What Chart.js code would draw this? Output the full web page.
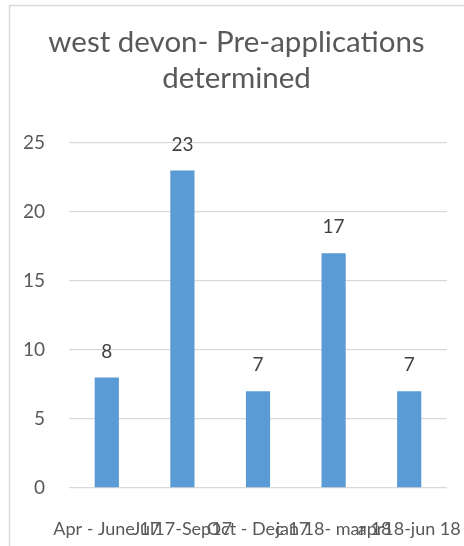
<!DOCTYPE html>
<html>
<head>
<meta charset="utf-8">
<script src="https://cdn.jsdelivr.net/npm/chart.js@4"></script>
<style>
  html, body { margin: 0; padding: 0; background: #fff; }
  #wrap { width: 464px; height: 546px; }
</style>
</head>
<body>
<div id="wrap"><canvas id="preappChart"></canvas></div>
<script>
const categories = ['Apr - June 17', 'Jul17-Sep17', 'Oct - Dec 17', 'jan 18- mar 18', 'apr18-jun 18'];
const determined = [8, 23, 7, 17, 7];
const yTicks = [0, 5, 10, 15, 20, 25];

const FONT = "Lato, 'Open Sans', sans-serif";

// light grey frame round the chart, like the spreadsheet chart box
const framePlugin = {
    id: 'frame',
    beforeDraw(chart) {
        const ctx = chart.ctx;
        ctx.save();
        ctx.fillStyle = '#ffffff';
        ctx.fillRect(0, 0, chart.width, chart.height);
        ctx.strokeStyle = '#d9d9d9';
        ctx.lineWidth = 1.5;
        ctx.strokeRect(9.5, 5.5, chart.width + 20, chart.height + 20);
        ctx.restore();
    }
};

// value above every bar
const valueLabels = {
    id: 'valueLabels',
    afterDatasetsDraw(chart) {
        const ctx = chart.ctx;
        ctx.save();
        ctx.font = '19px ' + FONT;
        ctx.fillStyle = '#404040';
        ctx.textAlign = 'center';
        ctx.textBaseline = 'middle';
        chart.getDatasetMeta(0).data.forEach((bar, i) => {
            ctx.fillText(determined[i], bar.x, bar.y - 26);
        });
        ctx.restore();
    }
};

new Chart(document.getElementById('preappChart'), {
    type: 'bar',
    data: {
        labels: categories,
        datasets: [{
            label: 'Pre-applications determined',
            data: determined,
            backgroundColor: '#5b9bd5',
            borderWidth: 0,
            categoryPercentage: 1,
            barPercentage: 0.32
        }]
    },
    options: {
        responsive: true,
        maintainAspectRatio: false,
        animation: false,
        layout: { padding: { left: 9, right: 0, top: 5, bottom: 0 } },
        plugins: {
            legend: { display: false },
            tooltip: { enabled: false },
            title: {
                display: true,
                text: ['west devon- Pre-applications', 'determined'],
                color: '#595959',
                font: { family: FONT, size: 29.5, weight: 'normal', lineHeight: 1.2 },
                padding: { top: 20, bottom: 47 }
            }
        },
        scales: {
            x: {
                grid: { display: false },
                border: { display: false },
                ticks: {
                    color: '#595959',
                    font: { family: FONT, size: 18 },
                    autoSkip: false,
                    maxRotation: 0,
                    minRotation: 0,
                    padding: 22
                },
                afterFit(scale) {
                    scale.height = 58;
                    scale.paddingLeft = 0;
                    scale.paddingRight = 17;
                }
            },
            y: {
                min: 0,
                max: 25,
                afterBuildTicks(scale) { scale.ticks = yTicks.map(v => ({ value: v })); },
                grid: { color: '#d9d9d9', lineWidth: 1.3, drawTicks: false },
                border: { display: false },
                ticks: {
                    color: '#595959',
                    font: { family: FONT, size: 19 },
                    padding: 24
                },
                afterFit(scale) {
                    scale.width = 60;
                    scale.paddingTop = 0;
                    scale.paddingBottom = 0;
                }
            }
        }
    },
    plugins: [framePlugin, valueLabels]
});
</script>
</body>
</html>
